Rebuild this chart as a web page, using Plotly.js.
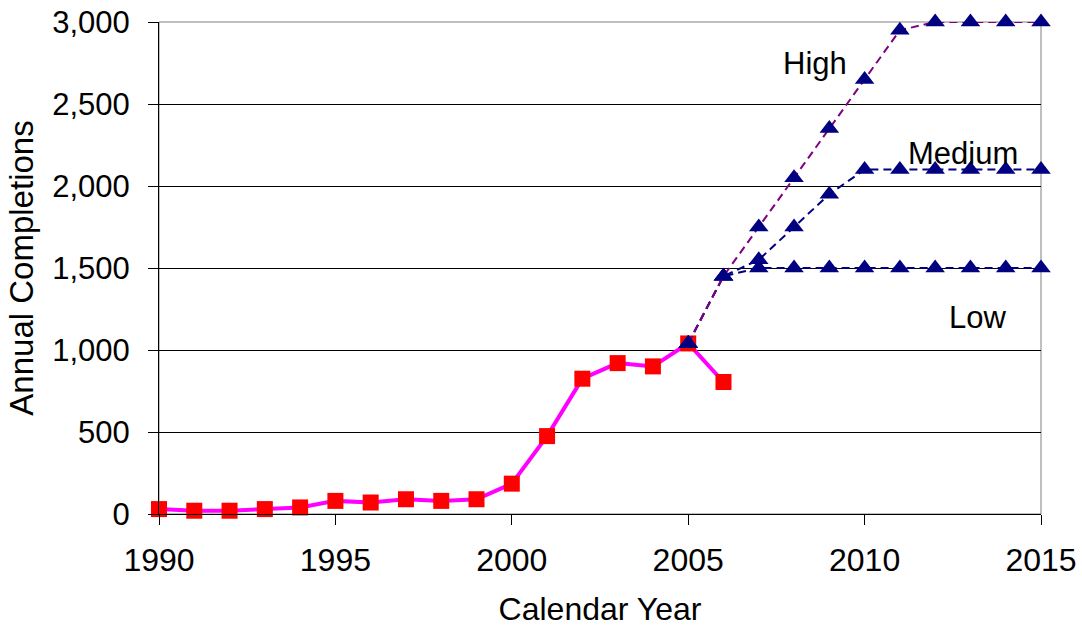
<!DOCTYPE html>
<html>
<head>
<meta charset="utf-8">
<script src="https://cdn.plot.ly/plotly-3.0.1.min.js"></script>
<style>html,body{margin:0;padding:0;background:#fff;}#chart{width:1082px;height:627px;}</style>
</head>
<body>
<div id="chart"></div>
<script>
const histYears = [1990,1991,1992,1993,1994,1995,1996,1997,1998,1999,2000,2001,2002,2003,2004,2005,2006];
const histValues = [30,20,20,30,40,80,70,90,80,90,185,475,825,920,900,1040,805];
const projYears = [2005,2006,2007,2008,2009,2010,2011,2012,2013,2014,2015];
const highValues = [1040,1450,1750,2050,2350,2650,2950,3000,3000,3000,3000];
const mediumValues = [1040,1450,1550,1750,1950,2100,2100,2100,2100,2100,2100];
const lowValues = [1040,1450,1500,1500,1500,1500,1500,1500,1500,1500,1500];
const scenarioLabels = ['High','Medium','Low'];
const xTicks = [1990,1995,2000,2005,2010,2015];
const yTicks = [0,500,1000,1500,2000,2500,3000];

const FONT = 'Liberation Sans, Arial, sans-serif';
const navy = '#000080';

const traces = [
  {x: histYears, y: histValues, type: 'scatter', mode: 'lines+markers', name: 'Historical',
   line: {color: '#FF00FF', width: 4}, marker: {symbol: 'square', size: 16, color: '#FF0000'}, cliponaxis: false},
  {x: projYears, y: lowValues, type: 'scatter', mode: 'lines+markers', name: 'Low',
   line: {color: navy, width: 2, dash: '8px,5px'}, marker: {symbol: 'triangle-up', size: 17, color: navy}, cliponaxis: false},
  {x: projYears, y: mediumValues, type: 'scatter', mode: 'lines+markers', name: 'Medium',
   line: {color: navy, width: 2, dash: '8px,5px'}, marker: {symbol: 'triangle-up', size: 17, color: navy}, cliponaxis: false},
  {x: projYears, y: highValues, type: 'scatter', mode: 'lines+markers', name: 'High',
   line: {color: '#800080', width: 2, dash: '8px,5px'}, marker: {symbol: 'triangle-up', size: 17, color: navy}, cliponaxis: false}
];

const layout = {
  width: 1082, height: 627,
  margin: {l: 159, r: 41, t: 22, b: 113},
  paper_bgcolor: '#fff', plot_bgcolor: '#fff',
  showlegend: false,
  font: {family: FONT, color: '#000', size: 32},
  xaxis: {
    range: [1990, 2015], tickvals: xTicks, ticktext: xTicks.map(String),
    showgrid: false, zeroline: false, showline: true, linecolor: '#000', linewidth: 1,
    ticks: 'outside', ticklen: 10, tickcolor: '#000', ticklabelstandoff: 8,
    tickfont: {size: 32, family: FONT},
    title: {text: 'Calendar Year', font: {size: 32, family: FONT}, standoff: 20}
  },
  yaxis: {
    range: [0, 3000], tickvals: yTicks, tickformat: ',d',
    showgrid: true, gridcolor: '#000', gridwidth: 1, zeroline: false,
    showline: true, linecolor: '#000', linewidth: 1,
    ticks: 'outside', ticklen: 10, tickcolor: '#000', ticklabelstandoff: 12,
    tickfont: {size: 31, family: FONT},
    title: {text: 'Annual Completions', font: {size: 33, family: FONT}, standoff: 8}
  },
  shapes: [
    {type: 'rect', xref: 'paper', yref: 'paper', x0: 0, x1: 1, y0: 0, y1: 1,
     line: {color: '#808080', width: 1}, layer: 'below'}
  ],
  annotations: [
    {x: 2008.6, y: 2750, xref: 'x', yref: 'y', text: scenarioLabels[0], showarrow: false, font: {size: 31, family: FONT}},
    {x: 2012.8, y: 2200, xref: 'x', yref: 'y', text: scenarioLabels[1], showarrow: false, font: {size: 31, family: FONT}},
    {x: 2013.2, y: 1200, xref: 'x', yref: 'y', text: scenarioLabels[2], showarrow: false, font: {size: 31, family: FONT}}
  ]
};

Plotly.newPlot('chart', traces, layout, {staticPlot: true, displayModeBar: false});
</script>
</body>
</html>
